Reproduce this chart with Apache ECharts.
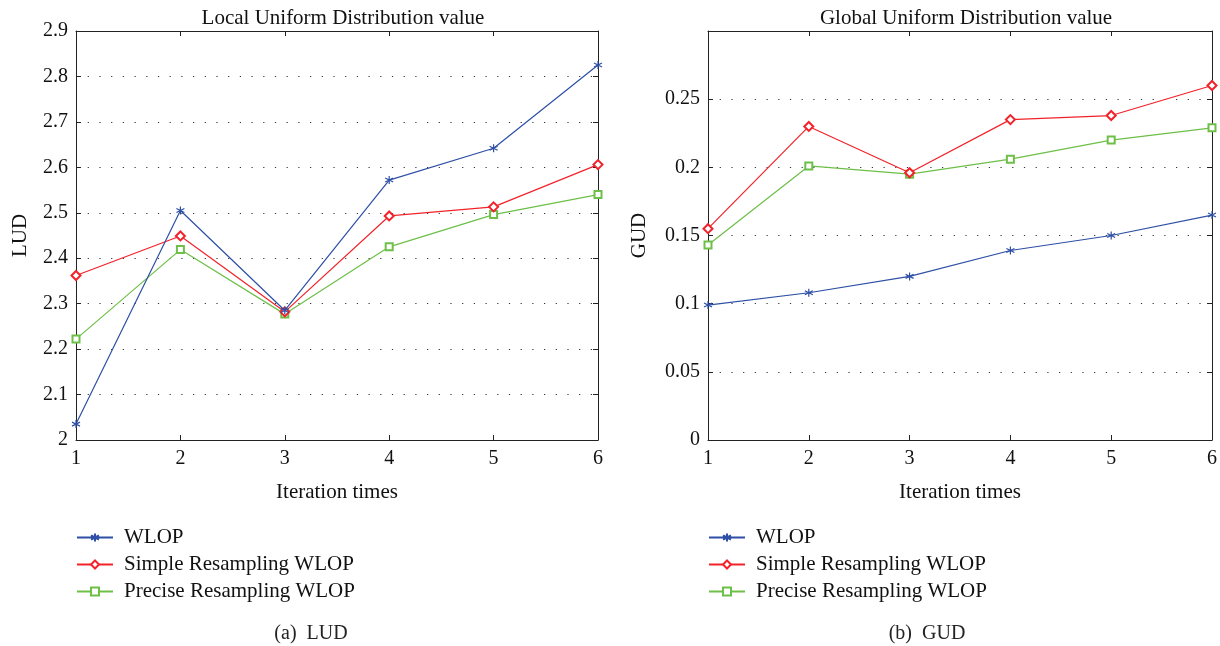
<!DOCTYPE html>
<html>
<head>
<meta charset="utf-8">
<script src="https://cdn.jsdelivr.net/npm/echarts@6/dist/echarts.min.js"></script>
<style>
body { margin: 0; padding: 0; background: #fff; }
#main { width: 1220px; height: 646px; }
</style>
</head>
<body>
<div id="main"></div>
<script>
const iterations = ['1', '2', '3', '4', '5', '6']
const seriesNames = ['WLOP', 'Simple Resampling WLOP', 'Precise Resampling WLOP']

// LUD values
const ludWlop = [2.035, 2.505, 2.285, 2.572, 2.642, 2.825]
const ludSimple = [2.362, 2.449, 2.282, 2.493, 2.513, 2.606]
const ludPrecise = [2.222, 2.419, 2.277, 2.425, 2.496, 2.540]

// GUD values
const gudWlop = [0.099, 0.108, 0.120, 0.139, 0.150, 0.165]
const gudSimple = [0.155, 0.230, 0.196, 0.235, 0.238, 0.260]
const gudPrecise = [0.143, 0.201, 0.195, 0.206, 0.220, 0.229]

const colors = ['#2d4fa5', '#f2222a', '#6dbf48']
const star = 'path://M0,-5L0,5M-4.3,-2.5L4.3,2.5M-4.3,2.5L4.3,-2.5'
const symbols = [star, 'emptyDiamond', 'emptyRect']
const symbolSizes = [8, 9, 7]
const font = 'Liberation Serif'

function xAx (grid, top) {
  return {
    type: 'category',
    gridIndex: grid,
    data: iterations,
    boundaryGap: false,
    position: top ? 'top' : 'bottom',
    name: top ? '' : 'Iteration times',
    nameLocation: 'middle',
    nameGap: 42,
    nameTextStyle: { fontFamily: font, fontSize: 21, color: '#111' },
    axisLine: { show: true, onZero: false, lineStyle: { color: '#222', width: 1 } },
    axisTick: { show: true, inside: true, length: 5, lineStyle: { color: '#222' } },
    axisLabel: { show: !top, fontFamily: font, fontSize: 20, color: '#111', margin: 9 },
    splitLine: { show: false }
  }
}

function yAx (grid, right, min, max, step, nm, hideMax) {
  return {
    type: 'value',
    gridIndex: grid,
    min: min,
    max: max,
    interval: step,
    position: right ? 'right' : 'left',
    name: right ? '' : nm,
    nameLocation: 'middle',
    nameRotate: 90,
    nameGap: right ? 0 : (grid === 0 ? 45 : 58),
    nameTextStyle: { fontFamily: font, fontSize: 21, color: '#111' },
    axisLine: { show: true, lineStyle: { color: '#222', width: 1 } },
    axisTick: { show: true, inside: true, length: 5, lineStyle: { color: '#222' } },
    axisLabel: {
      show: !right,
      fontFamily: font,
      fontSize: 20,
      color: '#111',
      margin: 8,
      formatter: function (v) {
        if (hideMax && Math.abs(v - max) < 1e-9) return ''
        return String(parseFloat(v.toFixed(3)))
      }
    },
    splitLine: {
      show: !right,
      lineStyle: { color: '#333', width: 1.2, type: [1.2, 10.5] }
    }
  }
}

function lines (grid, data) {
  return data.map(function (d, i) {
    return {
      name: seriesNames[i],
      type: 'line',
      xAxisIndex: grid * 2,
      yAxisIndex: grid * 2,
      data: d,
      symbol: symbols[i],
      symbolSize: symbolSizes[i],
      showAllSymbol: true,
      lineStyle: { color: colors[i], width: 1.2 },
      itemStyle: { color: colors[i], borderColor: colors[i], borderWidth: 1.2 },
      emphasis: { disabled: true },
      z: 3 - i
    }
  })
}

function legendAt (left) {
  return {
    orient: 'vertical',
    left: left,
    top: 527,
    padding: 0,
    itemWidth: 36,
    itemHeight: 10,
    itemGap: 6,
    data: seriesNames,
    textStyle: { fontFamily: font, fontSize: 21, color: '#111', padding: [0, 0, 0, 6] },
    selectedMode: false
  }
}

let myChart = echarts.init(document.getElementById('main'))
const option = {
  animation: false,
  backgroundColor: '#fff',
  title: [
    { text: 'Local Uniform Distribution value', left: 338, top: 3, textAlign: 'center',
      textStyle: { fontFamily: font, fontSize: 21, fontWeight: 'normal', color: '#111' } },
    { text: 'Global Uniform Distribution value', left: 961, top: 3, textAlign: 'center',
      textStyle: { fontFamily: font, fontSize: 21, fontWeight: 'normal', color: '#111' } },
    { text: '(a)  LUD', left: 306, top: 619, textAlign: 'center',
      textStyle: { fontFamily: font, fontSize: 20, fontWeight: 'normal', color: '#222' } },
    { text: '(b)  GUD', left: 922, top: 619, textAlign: 'center',
      textStyle: { fontFamily: font, fontSize: 20, fontWeight: 'normal', color: '#222' } }
  ],
  legend: [legendAt(76), legendAt(708)],
  grid: [
    { left: 76, right: 622, top: 31, bottom: 206 },
    { left: 708, right: 8, top: 31, bottom: 206 }
  ],
  xAxis: [xAx(0, false), xAx(0, true), xAx(1, false), xAx(1, true)],
  yAxis: [
    yAx(0, false, 2, 2.9, 0.1, 'LUD', false),
    yAx(0, true, 2, 2.9, 0.1, '', false),
    yAx(1, false, 0, 0.3, 0.05, 'GUD', true),
    yAx(1, true, 0, 0.3, 0.05, '', true)
  ],
  series: lines(0, [ludWlop, ludSimple, ludPrecise]).concat(lines(1, [gudWlop, gudSimple, gudPrecise]))
}
myChart.setOption(option)
</script>
</body>
</html>
